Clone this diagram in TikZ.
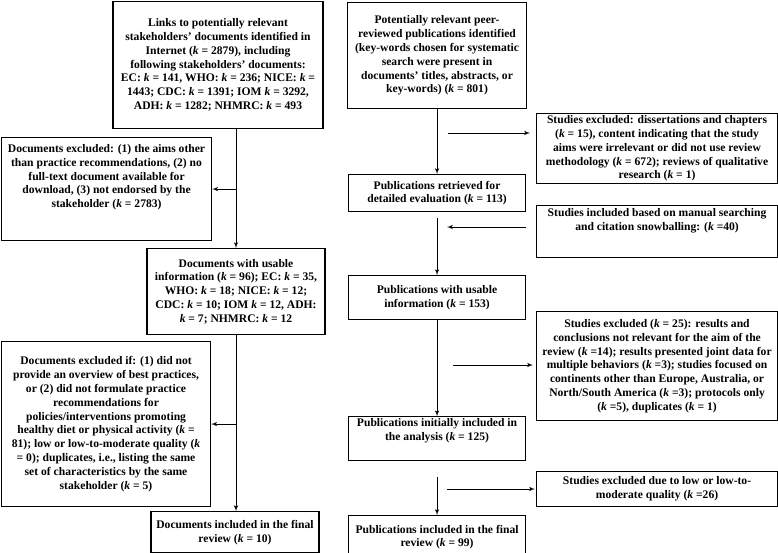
\documentclass[tikz,border=0pt]{standalone}
\usepackage{fontspec}
\setmainfont{Liberation Serif}
\usepackage{tikz}
\usetikzlibrary{arrows,positioning}
\newcommand{\kk}{\textit{k}}
\tikzset{
    mybox/.style={rectangle,draw=black, line width=1.1pt, inner xsep=1pt, inner ysep=2pt, align=center, font=\fontsize{11.6}{13.8}\selectfont\bfseries},
    myarrow/.style={->, >=latex', line width=1pt}
}

\begin{document}
\begin{tikzpicture}[x=1pt, y=-1pt, node distance=1cm]
\useasboundingbox (0,0) rectangle (778,552);

% left column: stakeholders' documents
\node[mybox, anchor=north, minimum width=210pt, minimum height=127pt] (links) at (218,1)
  {Links to potentially relevant\\stakeholders' documents identified in\\Internet (\kk{} = 2879), including\\following stakeholders' documents:\\EC: \kk{} = 141, WHO: \kk{} = 236; NICE: \kk{} =\\1443; CDC: \kk{} = 1391; IOM \kk{} = 3292,\\ADH: \kk{} = 1282; NHMRC: \kk{} = 493};
\node[mybox, anchor=north west, minimum width=210pt, minimum height=103pt] (docsexcl) at (1,137)
  {Documents excluded: (1) the aims other\\than practice recommendations, (2) no\\full-text document available for\\download, (3) not endorsed by the\\stakeholder (\kk{} = 2783)\\[12pt]};
\node[mybox, below=119pt of links, xshift=18pt, minimum width=178pt, minimum height=86pt] (docsusable)
  {Documents with usable\\information (\kk{} = 96); EC: \kk{} = 35,\\WHO: \kk{} = 18; NICE: \kk{} = 12;\\CDC: \kk{} = 10; IOM \kk{} = 12, ADH:\\\kk{} = 7; NHMRC: \kk{} = 12};
\node[mybox, anchor=north west, minimum width=209pt, minimum height=165pt] (docsexclif) at (1,341)
  {Documents excluded if: (1) did not\\provide an overview of best practices,\\or (2) did not formulate practice\\recommendations for\\policies/interventions promoting\\healthy diet or physical activity (\kk{} =\\81); low or low-to-moderate quality (\kk\\= 0); duplicates, i.e., listing the same\\set of characteristics by the same\\stakeholder (\kk{} = 5)};
\node[mybox, below=176pt of docsusable, xshift=-1pt, minimum width=168pt, minimum height=41pt] (docsfinal)
  {Documents included in the final\\review (\kk{} = 10)};

% right column: peer-reviewed publications
\node[mybox, anchor=north west, minimum width=179pt, minimum height=106pt] (pubs) at (347,2)
  {Potentially relevant peer-\\reviewed publications identified\\(key-words chosen for systematic\\search were present in\\documents' titles, abstracts, or\\key-words) (\kk{} = 801)};
\node[mybox, below=65pt of pubs, minimum width=177pt, minimum height=37pt] (pubsretr)
  {Publications retrieved for\\detailed evaluation (\kk{} = 113)};
\node[mybox, below=63pt of pubsretr, minimum width=177pt, minimum height=44pt] (pubsusable)
  {Publications with usable\\information (\kk{} = 153)};
\node[mybox, below=96pt of pubsusable, minimum width=177pt, minimum height=41pt] (pubsinit)
  {Publications initially included in\\the analysis (\kk{} = 125)\\[4pt]};
\node[mybox, below=54pt of pubsinit, minimum width=177pt, minimum height=43pt] (pubsfinal)
  {Publications included in the final\\review (\kk{} = 99)};

\node[mybox, anchor=north west, minimum width=241pt, minimum height=58pt] (studexcl) at (536,113)
  {Studies excluded: dissertations and chapters\\(\kk{} = 15), content indicating that the study\\aims were irrelevant or did not use review\\methodology (\kk{} = 672); reviews of qualitative\\research (\kk{} = 1)};
\node[mybox, anchor=north west, minimum width=241pt, minimum height=52pt] (studincl) at (536,205)
  {Studies included based on manual searching\\and citation snowballing: (\kk{} =40)\\[10pt]};
\node[mybox, anchor=north west, minimum width=241pt, minimum height=109pt] (studexcl25) at (536,311)
  {Studies excluded (\kk{} = 25): results and\\conclusions not relevant for the aim of the\\review (\kk{} =14); results presented joint data for\\multiple behaviors (\kk{} =3); studies focused on\\continents other than Europe, Australia, or\\North/South America (\kk{} =3); protocols only\\(\kk{} =5), duplicates (\kk{} = 1)};
\node[mybox, anchor=north west, minimum width=241pt, minimum height=35pt] (studlow) at (536,471)
  {Studies excluded due to low or low-to-\\moderate quality (\kk{} =26)};

\coordinate (h1) at (448,133);
\coordinate (i1) at (447,227);
\coordinate (k1) at (453,365);
\coordinate (m1) at (447,489);

\draw[myarrow] (links.south -| docsusable.north) -- (docsusable.north);
\draw[myarrow] (docsusable.north |- docsexcl.east) -- (docsexcl.east);
\draw[myarrow] (docsusable.south) -- (docsfinal.north -| docsusable.south);
\draw[myarrow] (docsusable.south |- docsexclif.east) -- (docsexclif.east);

\draw[myarrow] (pubs.south) -- (pubsretr.north);
\draw[myarrow, shorten <=6pt] (pubsretr.south) -- (pubsusable.north);
\draw[myarrow] (pubsusable.south) -- (pubsinit.north);
\draw[myarrow, shorten <=16pt] (pubsinit.south) -- (pubsfinal.north);

\draw[myarrow, shorten >=6pt] (h1) -- (h1 -| studexcl.west);
\draw[myarrow, shorten <=10pt] (i1 -| studincl.west) -- (i1);
\draw[myarrow, shorten >=3pt] (k1) -- (k1 -| studexcl25.west);
\draw[myarrow, shorten >=1pt] (m1) -- (m1 -| studlow.west);

\end{tikzpicture}
\end{document}
